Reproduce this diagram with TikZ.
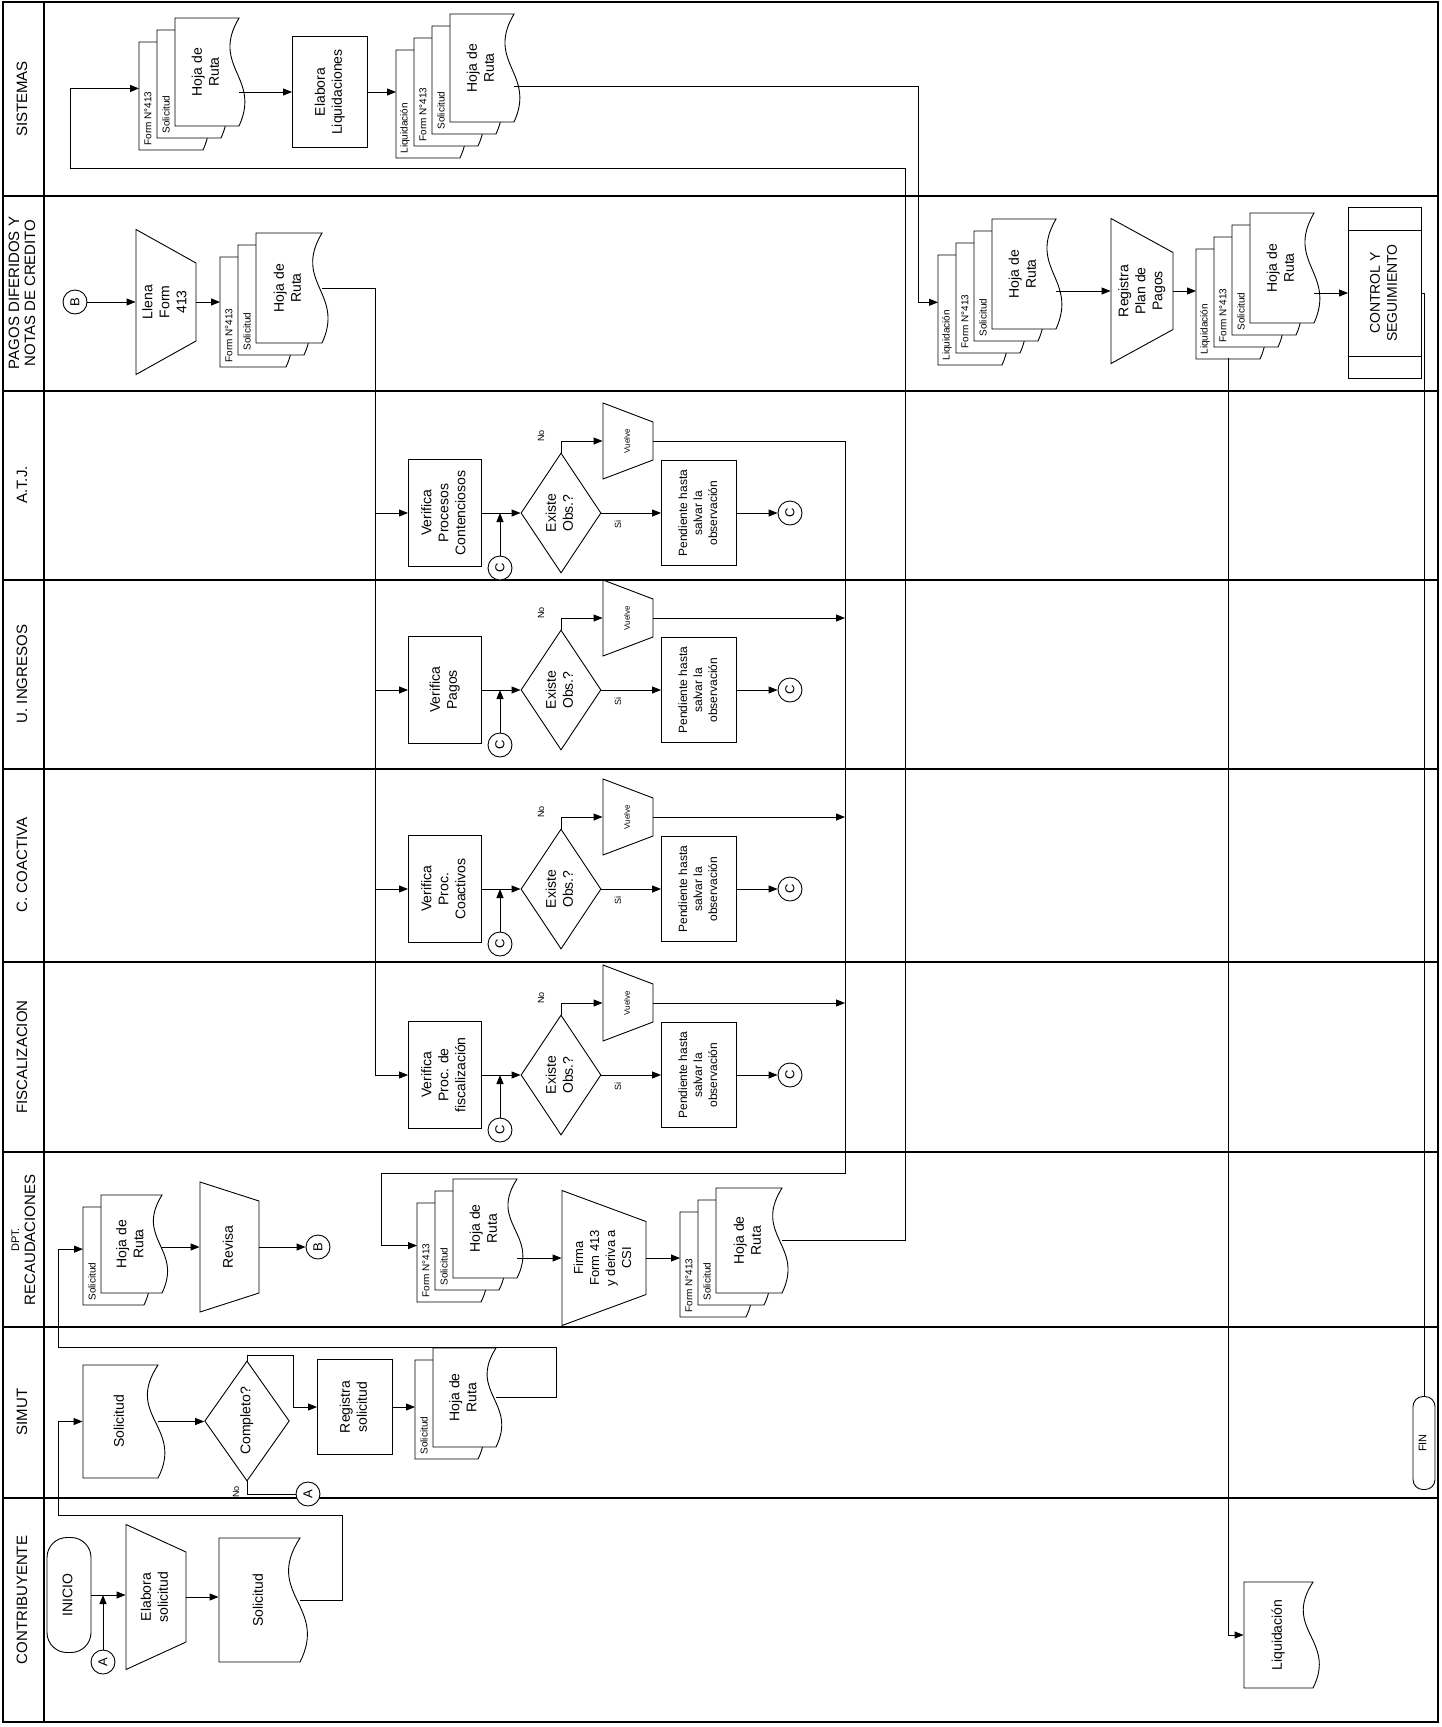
\documentclass[tikz,border=0pt]{standalone}
\usepackage{fontspec}
\setmainfont{Liberation Sans}
\usetikzlibrary{arrows.meta,shapes.geometric,calc}
\tikzset{every picture/.style={line width=0.9pt}}

% texto girado 90 grados, varias lineas
\newcommand{\rtxt}[1]{\rotatebox{90}{\begin{tabular}{@{}c@{}}#1\end{tabular}}}

% hoja con borde ondulado: x, y (arriba izq.), ancho, alto
\newcommand{\hojapath}[4]{%
  \draw[doc] ({#1},{#2}) -- ({#1+#3},{#2})
    .. controls ({#1+0.55*#3},{#2+0.45*#4}) and ({#1+1.35*#3},{#2+0.55*#4}) .. ({#1+#3},{#2+#4})
    -- ({#1},{#2+#4}) -- cycle;}
\newcommand{\hoja}[6]{%
  \hojapath{#2}{#3}{#4}{#5}
  \node[inner sep=0pt,minimum width=#4pt,minimum height=#5pt] (#1) at ({#2+#4/2},{#3+#5/2}) {\rtxt{#6}};}
% pila de hojas: nombre, x, y de la hoja de atras, ancho, alto, rotulos, texto
\newcommand{\pila}[7]{%
  \foreach \lab [count=\k from 0] in {#6}{%
    \hojapath{#2+\k*18}{#3-\k*12}{#4}{#5}
    \node[tira,anchor=south] (#1-\k) at ({#2+\k*18+9},{#3-\k*12+#5-4}) {\rotatebox{90}{\lab}};
    \xdef\nback{\k}}%
  \coordinate (#1-in) at ({#2},{#3+0.43*#5});
  \pgfmathsetmacro{\nf}{\nback+1}%
  \hoja{#1}{#2+\nf*18}{#3-\nf*12}{#4}{#5}{#7}}
% operacion manual: nombre, x izq., y centro, ancho, alto izq., alto der., texto
\newcommand{\manop}[7]{%
  \draw[doc] ({#2},{#3-#5/2}) -- ({#2+#4},{#3-#6/2}) -- ({#2+#4},{#3+#6/2}) -- ({#2},{#3+#5/2}) -- cycle;
  \node[inner sep=0pt,minimum width=#4pt,minimum height=#6pt] (#1) at ({#2+#4/2},{#3}) {#7};}

\begin{document}
\begin{tikzpicture}[x=1pt,y=-1pt,
  every node/.style={font=\fontsize{14}{17}\selectfont},
  flecha/.style={-{Triangle[length=9pt,width=7pt]}},
  doc/.style={draw,fill=white},
  caja/.style={draw,fill=white,inner sep=0pt,minimum width=73pt,minimum height=107pt},
  rombo/.style={draw,diamond,fill=white,inner sep=0pt,minimum width=80pt,minimum height=120pt},
  conector/.style={draw,circle,fill=white,inner sep=0pt,minimum size=24pt,font=\fontsize{13}{14}\selectfont},
  term/.style={draw,fill=white,rounded corners=20pt,inner sep=0pt},
  tira/.style={inner sep=0pt,font=\fontsize{10}{11}\selectfont},
  peque/.style={inner sep=1pt,font=\fontsize{9}{10}\selectfont},
  pend/.style={caja,minimum width=75pt,minimum height=105pt,font=\fontsize{12}{15}\selectfont},
  carril/.style={inner sep=0pt,font=\fontsize{15}{16}\selectfont},
  linea/.style={line width=1.1pt}]
  \useasboundingbox (0,0) rectangle (1442,1727);

  % carriles
  \draw[linea] (3,2) rectangle (1438,1722);
  \draw[linea] (44,2) -- (44,1722);
  \foreach \y in {196,391,580,769,962,1152,1327,1498}
    \draw[linea] (3,\y) -- (1438,\y);
  \foreach \y/\t [count=\i] in {99/SISTEMAS, 293/{PAGOS DIFERIDOS Y\\NOTAS DE CREDITO},
      485/A.T.J., 674/U. INGRESOS, 865/C. COACTIVA, 1057/FISCALIZACION,
      1240/{{\fontsize{11}{12}\selectfont DPT.}\\RECAUDACIONES}, 1412/SIMUT, 1600/CONTRIBUYENTE}
    \node[carril] (l\i) at (24,\y) {\rtxt{\t}};

  % puntos de paso
  \coordinate (bus) at (375,0);
  \coordinate (baja) at (918,0);
  \coordinate (ret1) at (845,1173);
  \coordinate (ret2) at (381,1173);
  \coordinate (lazo1) at (905,168);
  \coordinate (lazo2) at (70,168);
  \coordinate (liqsal) at (1228,358);

  % sistemas
  \pila{ss1}{139}{42}{64}{108}{Form N°413,Solicitud}{Hoja de\\Ruta}
  \node[caja,minimum width=75pt,minimum height=111pt] (eliq) at (330,92) {\rtxt{Elabora\\Liquidaciones}};
  \pila{ss2}{396}{50}{64}{108}{Liquidación,Form N°413,Solicitud}{Hoja de\\Ruta}

  % pagos diferidos
  \node[conector] (pb) at (75,302) {\rotatebox{90}{B}};
  \manop{llena}{136}{302}{60}{145}{78}{\rtxt{Llena\\Form\\413}}
  \pila{pp}{220}{257}{66}{110}{Form N°413,Solicitud}{Hoja de\\Ruta}
  \pila{pq1}{938}{255}{64}{110}{Liquidación,Form N°413,Solicitud}{Hoja de\\Ruta}
  \manop{rplan}{1111}{291}{62}{145}{77}{\rtxt{Registra\\Plan de\\Pagos}}
  \pila{pq2}{1196}{249}{64}{110}{Liquidación,Form N°413,Solicitud}{Hoja de\\Ruta}
  \node[caja,minimum width=73pt,minimum height=171pt] (ctrl) at (1385,293) {\rtxt{CONTROL Y\\SEGUIMIENTO}};
  \draw ($(ctrl.north west)+(0,23)$) -- ($(ctrl.north east)+(0,23)$);
  \draw ($(ctrl.south west)+(0,-23)$) -- ($(ctrl.south east)+(0,-23)$);

  % recaudaciones
  \pila{rp1}{83}{1207}{61}{98}{Solicitud}{Hoja de\\Ruta}
  \manop{rev}{200}{1247}{59}{130}{92}{\rtxt{Revisa}}
  \node[conector] (rb) at (318,1247) {\rotatebox{90}{B}};
  \pila{rp2}{417}{1203}{64}{99}{Form N°413,Solicitud}{Hoja de\\Ruta}
  \manop{firma}{562}{1258}{84}{135}{73}{{\fontsize{13}{16}\selectfont\rtxt{Firma\\Form 413\\y deriva a\\CSI}}}
  \pila{rp3}{680}{1212}{66}{105}{Form N°413,Solicitud}{Hoja de\\Ruta}

  % simut
  \hoja{ssol}{83}{1365}{75}{113}{Solicitud}
  \node[rombo] (comp) at (247,1421) {\rtxt{Completo?}};
  \node[conector] (as) at (308,1494) {\rotatebox{90}{A}};
  \node[peque] (nocomp) at (236,1492) {\rotatebox{90}{No}};
  \node[caja,minimum width=75pt,minimum height=95pt] (reg) at (355,1407) {\rtxt{Registra\\solicitud}};
  \pila{sp}{415}{1360}{63}{99}{Solicitud}{Hoja de\\Ruta}

  % contribuyente
  \node[term,minimum width=44pt,minimum height=115pt] (inicio) at (69,1595) {\rtxt{INICIO}};
  \node[conector] (ac) at (103,1662) {\rotatebox{90}{A}};
  \manop{elab}{126}{1597}{60}{145}{90}{\rtxt{Elabora\\solicitud}}
  \hoja{csol}{219}{1538}{81}{124}{Solicitud}
  \hoja{liq}{1244}{1582}{69}{106}{Liquidación}
  \node[term,minimum width=22pt,minimum height=93pt,rounded corners=10pt,font=\fontsize{11}{12}\selectfont] (fin) at (1424,1443) {\rtxt{FIN}};

  % areas de revision
  \foreach \n/\cy/\txt in {atj/513/{Verifica\\Procesos\\Contenciosos}, ing/690/{Verifica\\Pagos},
      coa/889/{Verifica\\Proc.\\Coactivos}, fis/1075/{Verifica\\Proc. de\\fiscalización}}{
    \node[caja] (v\n) at (445,\cy) {\rtxt{\txt}};
    \node[rombo] (d\n) at (561,\cy) {\rtxt{Existe\\Obs.?}};
    \node[pend] (p\n) at (699,\cy) {\rtxt{Pendiente hasta\\salvar la\\observación}};
    \node[conector] (c\n) at (790,\cy) {\rotatebox{90}{C}};
    \node[conector] (e\n) at ({500},{\cy+55}) {\rotatebox{90}{C}};
    \manop{u\n}{603}{\cy-72}{50}{76}{38}{{\fontsize{8}{9}\selectfont\rtxt{Vuelve}}}
    \node[peque] (no\n) at ({541},{\cy-77}) {\rotatebox{90}{No}};
    \node[peque] (si\n) at ({618},{\cy+11}) {\rotatebox{90}{Si}};
    \draw[flecha] (bus |- v\n.west) -- (v\n.west);
    \draw[flecha] (v\n.east) -- (d\n.west);
    \draw[flecha] (e\n) -- (e\n |- v\n.east);
    \draw[flecha] (d\n.north) |- (u\n.west);
    \draw[flecha] (d\n.east) -- (p\n.west);
    \draw[flecha] (p\n.east) -- (c\n);
  }

  % conexiones
  \draw[flecha] (inicio.east) -- (inicio.east -| elab.west);
  \draw[flecha] (ac) -- (ac |- inicio.east);
  \draw[flecha] (elab.east) -- (elab.east -| csol.west);
  \draw[flecha] (csol.east) -- ++(42,0) |- (58,1515) |- (ssol.west);
  \draw[flecha] (ssol.east) -- (ssol.east -| comp.west);
  \draw[flecha] (comp.north) -- ++(0,-5) -| ($(reg.west)+(-24,0)$) -- (reg.west);
  \draw (comp.south) |- (as);
  \draw[flecha] (reg.east) -- (reg.east -| sp-in);
  \draw[flecha] (sp.east) -- ++(60,0) |- (58,1347) |- (rp1-in);
  \draw[flecha] (rp1.east |- rev.west) -- (rev.west);
  \draw[flecha] (rev.east) -- (rb);
  \draw[flecha] (rp2.east |- firma.west) -- (firma.west);
  \draw[flecha] (firma.east) -- (firma.east -| rp3-in);
  \draw[flecha] (rp3.east) -| (lazo1) -- (lazo2) |- (ss1-in);
  \draw[flecha] (ss1.east |- eliq.west) -- (eliq.west);
  \draw[flecha] (eliq.east) -- (eliq.east -| ss2-in);
  \draw[flecha] ($(ss2.east)+(0,18)$) -| (baja |- pq1-in) -- (pq1-in);
  \draw[flecha] (pb) -- (llena.west);
  \draw[flecha] (llena.east) -- (llena.east -| pp-in);
  \draw (pp.east) -| (bus |- vfis.west);
  \draw[flecha] (uatj.east) -| (ret1) -- (ret2) |- (rp2-in);
  \foreach \n in {ing,coa,fis}
    \draw[flecha] (u\n.east) -- (u\n.east -| ret1);
  \draw[flecha] (pq1.east |- rplan.west) -- (rplan.west);
  \draw[flecha] (rplan.east) -- (rplan.east -| pq2-in);
  \draw[flecha] (pq2.east |- ctrl.west) -- (ctrl.west);
  \draw (ctrl.east) -| (fin.north);
  \draw[flecha] (liqsal) |- (liq.west);
\end{tikzpicture}
\end{document}
